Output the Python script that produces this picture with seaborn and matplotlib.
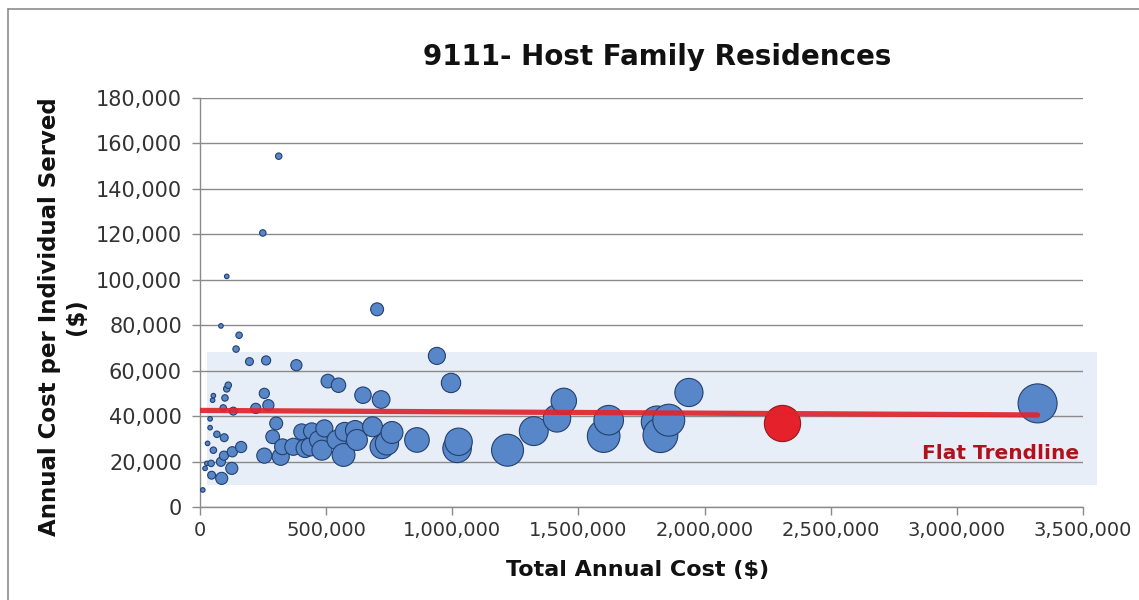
import numpy as np
import pandas as pd
import matplotlib
matplotlib.use('Agg')
import matplotlib.pyplot as plt
from matplotlib.patches import Rectangle
from matplotlib.lines import Line2D
from matplotlib.ticker import FuncFormatter
import seaborn as sns

# --- data (x = total annual cost, y = cost per individual, n = individuals served) ---
total_cost = [11000, 20000, 27000, 30000, 40000, 40000, 44000, 46000, 50000, 53000,
              53000, 67000, 83000, 83000, 86000, 92000, 95000, 96000, 99000, 106000,
              106000, 112000, 126000, 128000, 132000, 143000, 155000, 163000, 196000, 221000,
              249000, 255000, 255000, 262000, 271000, 288000, 302000, 312000, 320000, 327000,
              370000, 382000, 403000, 417000, 437000, 443000, 470000, 483000, 493000, 507000,
              542000, 549000, 569000, 573000, 615000, 622000, 646000, 684000, 702000, 718000,
              721000, 741000, 761000, 860000, 939000, 995000, 1019000, 1025000, 1219000, 1323000,
              1415000, 1442000, 1600000, 1620000, 1812000, 1825000, 1858000, 1938000, 3320000]
cost_per_person = [7500, 17000, 19200, 28000, 34900, 38800, 19200, 14000, 47000, 49000,
                   25000, 32000, 79700, 19900, 12600, 43600, 22600, 30500, 48000, 101500,
                   52000, 53600, 17000, 24300, 42200, 69500, 75600, 26400, 64000, 43400,
                   120600, 50000, 22600, 64500, 44800, 30900, 36800, 154400, 22100, 26500,
                   26500, 62400, 33100, 25800, 26500, 33400, 29500, 25000, 34600, 55400,
                   29500, 53600, 22900, 33100, 33800, 29500, 49200, 35300, 87000, 47300,
                   26500, 28000, 32800, 29500, 66500, 54600, 25800, 28700, 25000, 33400,
                   39000, 46700, 31200, 38200, 37500, 31600, 38200, 50400, 45600]
served = [1, 1, 1, 1, 1, 1, 2, 3, 1, 1,
          2, 2, 1, 4, 7, 2, 4, 3, 2, 1,
          2, 2, 7, 5, 3, 2, 2, 6, 3, 5,
          2, 5, 11, 4, 6, 9, 8, 2, 14, 12,
          14, 6, 12, 16, 16, 13, 16, 19, 14, 9,
          18, 10, 25, 17, 18, 21, 13, 19, 8, 15,
          27, 26, 23, 29, 14, 18, 39, 36, 49, 40,
          36, 31, 51, 42, 48, 58, 49, 38, 73]

# highlighted provider (red bubble)
sel_cost = [2308000]
sel_per_person = [36800]
sel_served = [63]

# linear trendline end points
trend_x = [0, 3320000]
trend_y = [42500, 40500]

x_ticks = [0, 500000, 1000000, 1500000, 2000000, 2500000, 3000000, 3500000]
y_ticks = [0, 20000, 40000, 60000, 80000, 100000, 120000, 140000, 160000, 180000]

df = pd.DataFrame({'cost': total_cost, 'per_person': cost_per_person, 'served': served})
df_sel = pd.DataFrame({'cost': sel_cost, 'per_person': sel_per_person, 'served': sel_served})

sns.set_theme(style='white')
plt.rcParams['font.family'] = ['DejaVu Sans']

fig = plt.figure(figsize=(11.39, 6.0), dpi=100)
ax = fig.add_axes([200 / 1139, 1 - 507 / 600, 883 / 1139, 409 / 600])

# light blue band behind the main cluster
band = Rectangle((28000, 9700), 3555000 - 28000, 68000 - 9700, facecolor='#e8eef7',
                 edgecolor='none', zorder=0.5, clip_on=False)
ax.add_patch(band)

size_kw = dict(size_norm=(0, 73), sizes=(0, 10.8 * 73), legend=False)
sns.scatterplot(data=df, x='cost', y='per_person', size='served', color='#5787c8',
                edgecolor='#23406e', linewidth=0.8, alpha=1, zorder=3, ax=ax, **size_kw)
sns.scatterplot(data=df_sel, x='cost', y='per_person', size='served', color='#e5222b',
                edgecolor='#8e1a1a', linewidth=0.8, alpha=1, zorder=3, ax=ax, **size_kw)

sns.lineplot(x=trend_x, y=trend_y, color='#e0242c', linewidth=3.8, alpha=0.92,
             solid_capstyle='round', zorder=4, ax=ax)

ax.text(3484000, 23700, 'Flat Trendline', color='#b0121b', fontsize=14.5,
        fontweight='bold', ha='right', va='center', zorder=5)

ax.set_xlim(0, 3500000)
ax.set_ylim(0, 180000)
ax.set_xticks(x_ticks)
ax.set_yticks(y_ticks)
fmt = FuncFormatter(lambda v, p: f'{int(v):,}')
ax.xaxis.set_major_formatter(fmt)
ax.yaxis.set_major_formatter(fmt)
ax.grid(True, axis='y', color='#8a8a8a', linewidth=1.0, zorder=1)
ax.set_axisbelow(True)
ax.set_xlabel('')
ax.set_ylabel('')
ax.tick_params(axis='both', bottom=True, left=True, direction='out', length=6,
               width=1, color='#8a8a8a', labelcolor='#333333')
ax.tick_params(axis='y', labelsize=15, pad=7)
ax.tick_params(axis='x', labelsize=14, pad=4)
for side in ['top', 'right']:
    ax.spines[side].set_visible(False)
for side in ['left', 'bottom']:
    ax.spines[side].set_color('#8a8a8a')
    ax.spines[side].set_linewidth(1.0)
ax.set_facecolor('none')

fig.text(657 / 1139, 1 - 57 / 600, '9111- Host Family Residences', fontsize=20,
         fontweight='bold', ha='center', va='center', color='#111111')
fig.text(638 / 1139, 1 - 570 / 600, 'Total Annual Cost ($)', fontsize=16,
         fontweight='bold', ha='center', va='center', color='#111111')
fig.text(63 / 1139, 1 - 317 / 600, 'Annual Cost per Individual Served\n($)', fontsize=16.5,
         fontweight='bold', ha='center', va='center', rotation=90, multialignment='center',
         color='#111111', linespacing=1.2)

# outer chart border (top and left edges visible)
fig.add_artist(Line2D([8 / 1139, 1], [1 - 9 / 600, 1 - 9 / 600], color='#8c8c8c', linewidth=1.2))
fig.add_artist(Line2D([8 / 1139, 8 / 1139], [0, 1 - 9 / 600], color='#8c8c8c', linewidth=1.2))

fig.savefig('out.png', dpi=100)
